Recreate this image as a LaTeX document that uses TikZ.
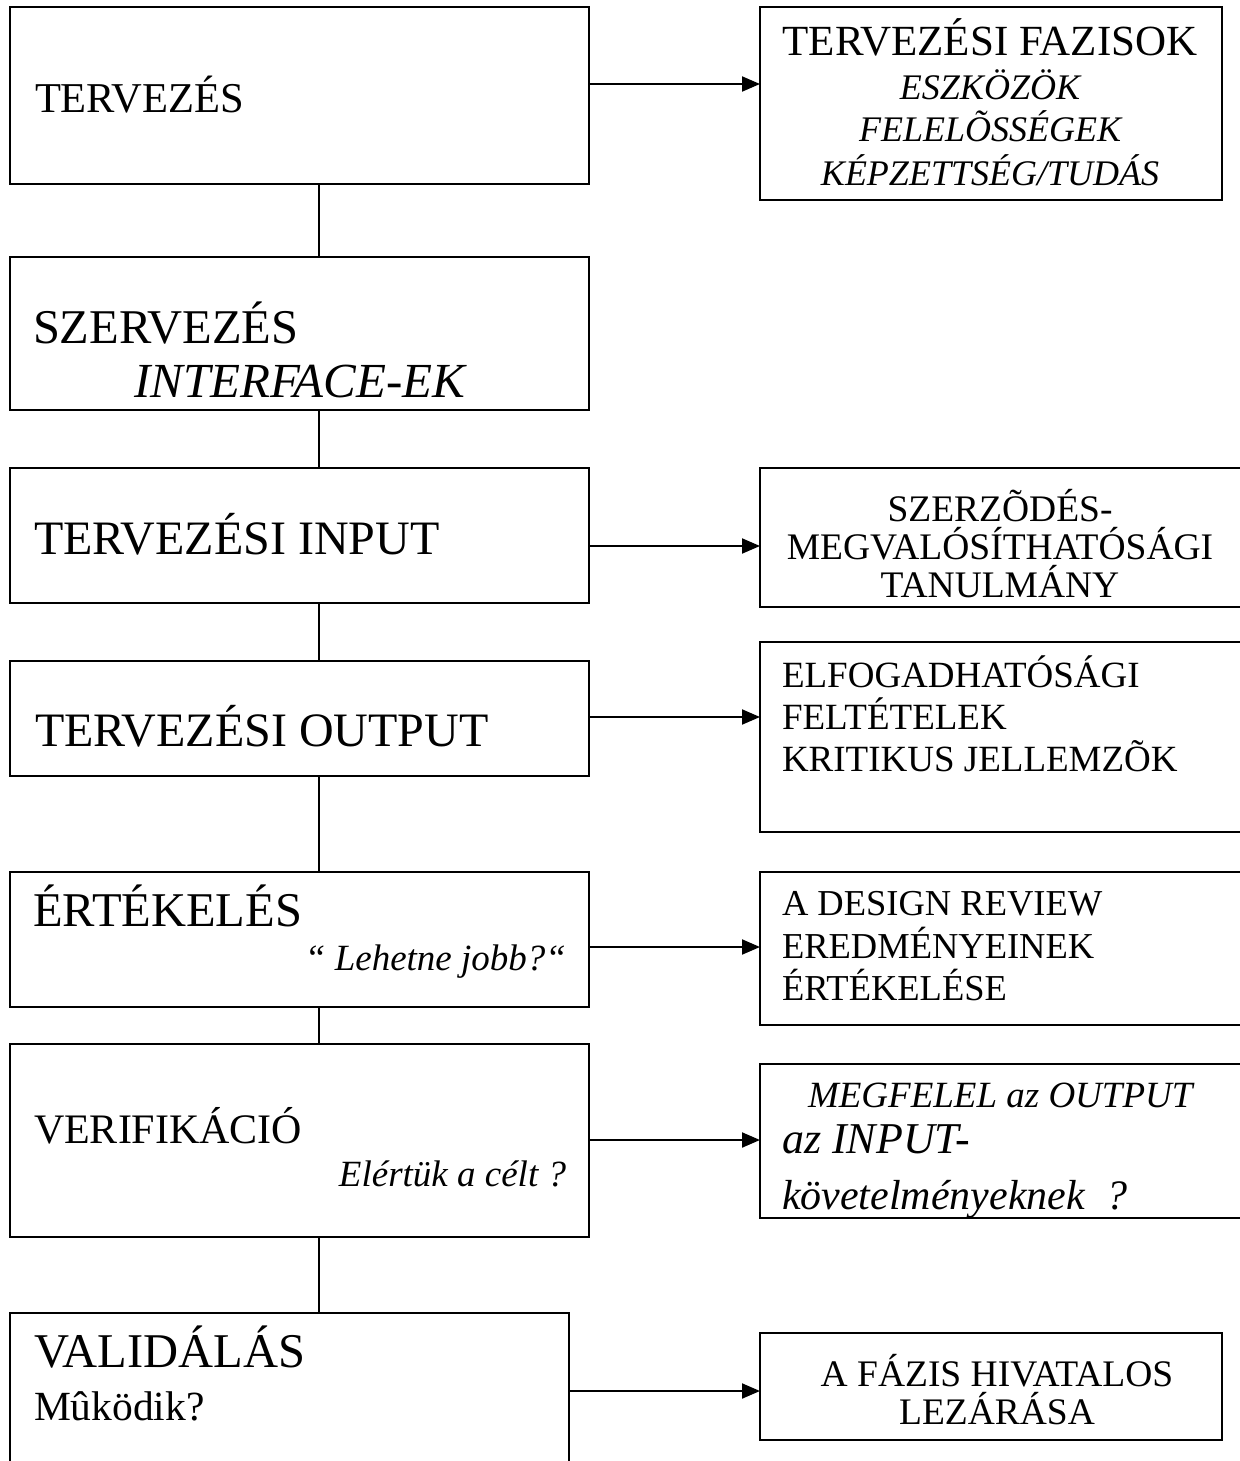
\documentclass[tikz,border=0pt]{standalone}
\usepackage{fontspec}
\setmainfont{Liberation Serif}
\usetikzlibrary{arrows.meta}
\newcommand\setfs[1]{\fontsize{#1}{#1}\selectfont}
\tikzset{
  box/.style={draw=black, line width=2pt, fill=none, rectangle, inner sep=0pt, outer sep=0pt, anchor=north west},
  lbl/.style={inner sep=0pt, outer sep=0pt, anchor=base west},
  clbl/.style={inner sep=0pt, outer sep=0pt, anchor=base},
  rlbl/.style={inner sep=0pt, outer sep=0pt, anchor=base east},
  link/.style={draw=black, line width=2pt},
  arr/.style={draw=black, line width=2pt, -{Triangle[length=18pt,width=15pt]}},
}
\begin{document}
\begin{tikzpicture}[x=1pt,y=-1pt]
\useasboundingbox (0,0) rectangle (1239,1461);

% left column: the phases
\node[box, minimum width=579pt, minimum height=177pt] (b1) at (10,7) {};
\node[box, minimum width=579pt, minimum height=153pt] (b2) at (10,257) {};
\node[box, minimum width=579pt, minimum height=135pt] (b3) at (10,468) {};
\node[box, minimum width=579pt, minimum height=115pt] (b4) at (10,661) {};
\node[box, minimum width=579pt, minimum height=135pt] (b5) at (10,872) {};
\node[box, minimum width=579pt, minimum height=193pt] (b6) at (10,1044) {};
\node[box, minimum width=559pt, minimum height=170pt] (b7) at (10,1313) {};

% right column: what each phase involves
\node[box, minimum width=462pt, minimum height=193pt] (r1) at (760,7) {};
\node[box, minimum width=481pt, minimum height=139pt] (r2) at (760,468) {};
\node[box, minimum width=481pt, minimum height=190pt] (r3) at (760,642) {};
\node[box, minimum width=481pt, minimum height=153pt] (r4) at (760,872) {};
\node[box, minimum width=481pt, minimum height=154pt] (r5) at (760,1064) {};
\node[box, minimum width=462pt, minimum height=107pt] (r6) at (760,1333) {};

% phase texts
\node[lbl, font=\setfs{42.5}] (t1) at (35,113) {TERVEZÉS};
\node[lbl, font=\setfs{48.5}] (t2a) at (33,343) {SZERVEZÉS};
\node[lbl, font=\setfs{49}\itshape] (t2b) at (134,397) {INTERFACE-EK};
\node[lbl, font=\setfs{48}] (t3) at (34,554) {TERVEZÉSI INPUT};
\node[lbl, font=\setfs{48}] (t4) at (35,746) {TERVEZÉSI OUTPUT};
\node[lbl, font=\setfs{48.5}] (t5a) at (33,926) {ÉRTÉKELÉS};
\node[rlbl, font=\setfs{37}\itshape] (t5b) at (566,970) {“ Lehetne jobb?“};
\node[lbl, font=\setfs{42}] (t6a) at (34,1143) {VERIFIKÁCIÓ};
\node[rlbl, font=\setfs{37}\itshape] (t6b) at (566,1186) {Elértük a célt ?};
\node[lbl, font=\setfs{48.5}] (t7a) at (34,1367) {VALIDÁLÁS};
\node[lbl, font=\setfs{41.5}] (t7b) at (34,1420) {Mûködik?};

% right column texts
\node[clbl, font=\setfs{43}] (u1a) at (990,56) {TERVEZÉSI FAZISOK};
\node[clbl, font=\setfs{36}\itshape] (u1b) at (990,100) {ESZKÖZÖK};
\node[clbl, font=\setfs{36}\itshape] (u1c) at (990,142) {FELELÕSSÉGEK};
\node[clbl, font=\setfs{36}\itshape] (u1d) at (990,185) {KÉPZETTSÉG/TUDÁS};

\node[clbl, font=\setfs{37.5}] (u2a) at (1000,521) {SZERZÕDÉS-};
\node[clbl, font=\setfs{37.5}] (u2b) at (1000,559) {MEGVALÓSÍTHATÓSÁGI};
\node[clbl, font=\setfs{37.5}] (u2c) at (1000,597) {TANULMÁNY};

\node[lbl, font=\setfs{37}] (u3a) at (782,687) {ELFOGADHATÓSÁGI};
\node[lbl, font=\setfs{37}] (u3b) at (782,729) {FELTÉTELEK};
\node[lbl, font=\setfs{37}] (u3c) at (782,771) {KRITIKUS JELLEMZÕK};

\node[lbl, font=\setfs{36.5}] (u4a) at (782,915) {A DESIGN REVIEW};
\node[lbl, font=\setfs{36.5}] (u4b) at (782,958) {EREDMÉNYEINEK};
\node[lbl, font=\setfs{36.5}] (u4c) at (782,1000) {ÉRTÉKELÉSE};

\begin{scope}
  \clip (r5.north west) rectangle (r5.south east);
  \node[lbl, font=\setfs{37}\itshape] (u5a) at (808,1107) {MEGFELEL az OUTPUT};
  \node[lbl, font=\setfs{44}\itshape] (u5b) at (782,1153) {az INPUT-};
  \node[lbl, font=\setfs{42}\itshape] (u5c) at (782,1209) {követelményeknek\ \ ?};
\end{scope}

\node[clbl, font=\setfs{37.5}] (u6a) at (997,1386) {A FÁZIS HIVATALOS};
\node[clbl, font=\setfs{37.5}] (u6b) at (997,1424) {LEZÁRÁSA};

% vertical spine joining the phases
\coordinate (spine) at (319,0);
\draw[link] (b1.south -| spine) -- (b2.north -| spine);
\draw[link] (b2.south -| spine) -- (b3.north -| spine);
\draw[link] (b3.south -| spine) -- (b4.north -| spine);
\draw[link] (b4.south -| spine) -- (b5.north -| spine);
\draw[link] (b5.south -| spine) -- (b6.north -| spine);
\draw[link] (b6.south -| spine) -- (b7.north -| spine);

% arrows to the right column
\coordinate (a1) at (0,84);
\coordinate (a2) at (0,546);
\coordinate (a3) at (0,717);
\coordinate (a4) at (0,947);
\coordinate (a5) at (0,1140);
\coordinate (a6) at (0,1391);
\draw[arr] (b1.east |- a1) -- (r1.west |- a1);
\draw[arr] (b3.east |- a2) -- (r2.west |- a2);
\draw[arr] (b4.east |- a3) -- (r3.west |- a3);
\draw[arr] (b5.east |- a4) -- (r4.west |- a4);
\draw[arr] (b6.east |- a5) -- (r5.west |- a5);
\draw[arr] (b7.east |- a6) -- (r6.west |- a6);
\end{tikzpicture}
\end{document}
